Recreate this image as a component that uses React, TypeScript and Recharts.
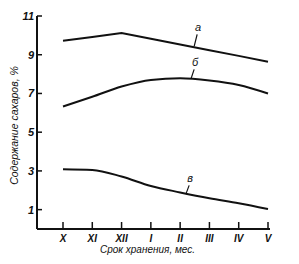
import React from 'react';
import { LineChart, Line, XAxis, YAxis, LabelList } from 'recharts';

const months = ['X', 'XI', 'XII', 'I', 'II', 'III', 'IV', 'V'];
const curveA = [9.72, 9.92, 10.12, 9.83, 9.53, 9.23, 8.94, 8.64];
const curveB = [6.33, 6.83, 7.36, 7.7, 7.78, 7.67, 7.44, 7.0];
const curveV = [3.09, 3.05, 2.71, 2.22, 1.89, 1.59, 1.33, 1.03];
const yTicks = [1, 3, 5, 7, 9, 11];
const curveNames = ['а', 'б', 'в'];

const data = months.map((m, i) => ({ m, a: curveA[i], b: curveB[i], v: curveV[i] }));

const FONT = '"Liberation Sans", Arial, sans-serif';

const XTick = (props: any) => {
  const { x, y, payload } = props;
  return (
    <g>
      <line x1={x} y1={y - 7} x2={x} y2={y} stroke="#111" strokeWidth={1.5} />
      <text x={x} y={y + 13} textAnchor="middle" fontSize={10} fontStyle="italic" fontWeight="bold" fontFamily={FONT} fill="#111">
        {payload.value}
      </text>
    </g>
  );
};

const YTick = (props: any) => {
  const { x, y, payload } = props;
  return (
    <g>
      <line x1={x} y1={y} x2={x + 5} y2={y} stroke="#111" strokeWidth={1.5} />
      <text x={x - 3} y={y + 4} textAnchor="end" fontSize={11} fontStyle="italic" fontWeight="bold" fontFamily={FONT} fill="#111">
        {payload.value}
      </text>
    </g>
  );
};

// curve letter with a short leader line, placed near month II
const curveTag = (name: string, dx: number, dy: number, reach: number) => (props: any) => {
  const { x, y, index } = props;
  if (index !== 4) return null;
  return (
    <g>
      <line x1={x + dx - 1} y1={y + dy + 3} x2={x + dx - 4} y2={y + dy + reach} stroke="#111" strokeWidth={1.2} />
      <text x={x + dx} y={y + dy} textAnchor="middle" fontSize={11} fontStyle="italic" fontFamily={FONT} fill="#111">
        {name}
      </text>
    </g>
  );
};

const App = () => {
  return (
    <div style={{ position: 'absolute', left: 0, top: 0, width: 299, height: 264, background: '#fff' }}>
      <LineChart width={299} height={264} data={data} margin={{ top: 16, right: 29, left: 0, bottom: 0 }}>
        <XAxis
          dataKey="m"
          height={35}
          padding={{ left: 26, right: 2 }}
          tickLine={false}
          tickSize={0}
          tickMargin={0}
          tick={<XTick />}
          interval={0}
          axisLine={{ stroke: '#111', strokeWidth: 2 }}
          label={{
            content: (p: any) => (
              <text x={p.viewBox.x + p.viewBox.width / 2 - 6} y={p.viewBox.y + 24} textAnchor="middle" fontSize={10} fontStyle="italic" fontFamily={FONT} fill="#111">
                Срок хранения, мес.
              </text>
            ),
          }}
        />
        <YAxis
          width={37}
          domain={[0, 11]}
          ticks={yTicks}
          tickLine={false}
          tickSize={0}
          tickMargin={0}
          tick={<YTick />}
          axisLine={{ stroke: '#111', strokeWidth: 2 }}
          label={{
            content: (p: any) => {
              const cx = 15;
              const cy = p.viewBox.y + p.viewBox.height / 2 + 3;
              return (
                <text x={cx} y={cy} transform={`rotate(-90 ${cx} ${cy})`} textAnchor="middle" dominantBaseline="middle" fontSize={10.5} fontStyle="italic" fontFamily={FONT} fill="#111">
                  Содержание сахаров, %
                </text>
              );
            },
          }}
        />
        <Line dataKey="a" type="linear" stroke="#111" strokeWidth={2} dot={false} isAnimationActive={false}>
          <LabelList dataKey="a" content={curveTag(curveNames[0], 18, -13, 15)} />
        </Line>
        <Line dataKey="b" type="monotone" stroke="#111" strokeWidth={2} dot={false} isAnimationActive={false}>
          <LabelList dataKey="b" content={curveTag(curveNames[1], 15, -12, 12)} />
        </Line>
        <Line dataKey="v" type="monotone" stroke="#111" strokeWidth={2} dot={false} isAnimationActive={false}>
          <LabelList dataKey="v" content={curveTag(curveNames[2], 10, -10, 11)} />
        </Line>
      </LineChart>
    </div>
  );
};

export default App;
